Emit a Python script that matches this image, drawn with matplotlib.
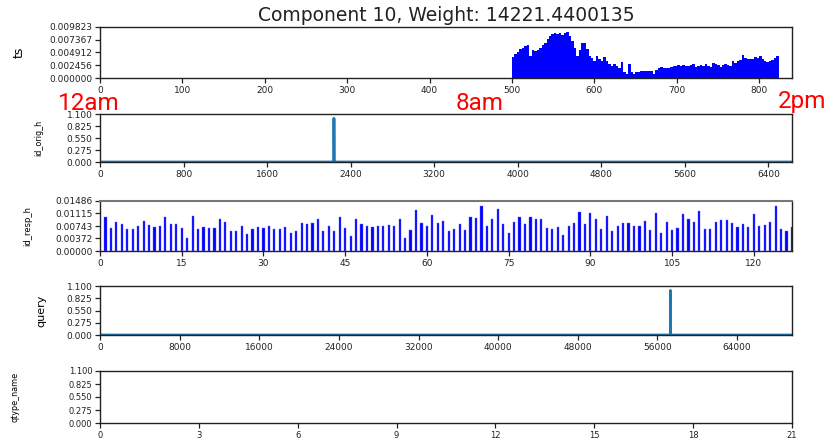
import matplotlib
matplotlib.use('Agg')
import matplotlib.pyplot as plt
import numpy as np

W, H = 839, 440

TITLE = 'Component 10, Weight: 14221.4400135'

# ts: minute-of-day histogram, 3-minute bins starting at minute 500
TS_START = 500
TS_BIN = 3
TS_VALUES = [
    0.0040, 0.0046, 0.0051, 0.0055, 0.0058, 0.0061, 0.0063, 0.0043, 0.0053, 0.0052,
    0.0053, 0.0057, 0.0063, 0.0067, 0.0076, 0.0081, 0.0084, 0.0087, 0.0084, 0.0086,
    0.0082, 0.0086, 0.00893, 0.0081, 0.0072, 0.0057, 0.0043, 0.0053, 0.0067, 0.0068,
    0.0056, 0.0043, 0.0038, 0.0032, 0.0043, 0.0036, 0.0032, 0.0040, 0.0032, 0.0027,
    0.0024, 0.0027, 0.0024, 0.0019, 0.0030, 0.0011, 0.0008, 0.0027, 0.0011, 0.0008,
    0.0011, 0.0011, 0.0013, 0.0013, 0.0014, 0.0013, 0.0013, 0.0008, 0.0015, 0.0019,
    0.0021, 0.0020, 0.0019, 0.0020, 0.0022, 0.0024, 0.0024, 0.0025, 0.0024, 0.0025,
    0.0023, 0.0024, 0.0025, 0.0027, 0.0021, 0.0023, 0.0025, 0.0024, 0.0027, 0.0024,
    0.0021, 0.0029, 0.0027, 0.0025, 0.0021, 0.0025, 0.0027, 0.0025, 0.0024, 0.0032,
    0.0029, 0.0032, 0.0034, 0.0044, 0.0038, 0.0037, 0.0037, 0.0036, 0.0040, 0.0038,
    0.0043, 0.0036, 0.0032, 0.0030, 0.0032, 0.0034, 0.0038, 0.0042,
]
TS_XMAX = 840
TS_YTICKLABELS = ['0.000000', '0.002456', '0.004912', '0.007367', '0.009823']

# id_orig_h: one spike
ORIG_LEN = 6626
ORIG_SPIKE_AT = 2240
ORIG_SPIKE_VAL = 1.0

# id_resp_h: one bar per host
RESP_VALUES = [
    0.01007, 0.00698, 0.00868, 0.00808, 0.00648, 0.00668, 0.00748, 0.00898, 0.00758, 0.00708,
    0.00748, 0.01007, 0.00788, 0.00808, 0.00698, 0.00379, 0.01037, 0.00668, 0.00728, 0.00698,
    0.00698, 0.00957, 0.00868, 0.00608, 0.00588, 0.00748, 0.00499, 0.00668, 0.00718, 0.00698,
    0.00748, 0.00648, 0.00668, 0.00718, 0.00549, 0.00608, 0.00838, 0.00788, 0.00838, 0.00957,
    0.00588, 0.00748, 0.00588, 0.01007, 0.00698, 0.00459, 0.00957, 0.00808, 0.00748, 0.00728,
    0.00748, 0.00748, 0.00778, 0.00748, 0.00957, 0.00379, 0.00638, 0.01207,
    0.00838, 0.00748, 0.01067, 0.00838, 0.00898, 0.00588, 0.00668, 0.00788, 0.00638, 0.01007,
    0.00977, 0.01351, 0.00748, 0.00947, 0.01237, 0.00788, 0.00549, 0.00868, 0.01007, 0.00788,
    0.01007, 0.00947, 0.00947, 0.00698, 0.00668, 0.00728, 0.00489, 0.00748, 0.00838, 0.01157,
    0.00808, 0.01127, 0.00947, 0.00668, 0.01037, 0.00608, 0.00748, 0.00838, 0.00838, 0.00748,
    0.00748, 0.00898, 0.00638, 0.01127, 0.00549, 0.00868, 0.00638, 0.00698, 0.01097, 0.00947,
    0.00868, 0.01187, 0.00668, 0.00668, 0.00868, 0.00928, 0.00928, 0.00838, 0.00718, 0.00788,
    0.00718, 0.01097, 0.00748, 0.00778, 0.00868, 0.01351, 0.00668, 0.00588, 0.00718,
]
RESP_YTICKLABELS = ['0.00000', '0.00372', '0.00743', '0.01115', '0.01486']

# query: one spike
QUERY_LEN = 69520
QUERY_SPIKE_AT = 57300
QUERY_SPIKE_VAL = 1.0

QTYPE_XMAX = 21

UNIT_YTICKLABELS = ['0.000', '0.275', '0.550', '0.825', '1.100']

TIME_LABELS = ['12am', '8am', '2pm']

LINE_BLUE = '#1f77b4'


def axes_at(fig, top, bottom, left=100, right=792):
    return fig.add_axes([left / W, 1 - bottom / H, (right - left) / W, (bottom - top) / H])


def style(ax, labelsize=6.5):
    ax.tick_params(direction='out', length=3.5, width=0.9, colors='#222222',
                   labelsize=labelsize, pad=2)
    for s in ax.spines.values():
        s.set_linewidth(1.0)
        s.set_color('#222222')


if __name__ == '__main__':
    plt.rcParams['font.family'] = ['DejaVu Sans']
    fig = plt.figure(figsize=(W / 100, H / 100), dpi=100)

    # ts
    ax = axes_at(fig, 27, 78)
    ts_x = TS_START + TS_BIN * np.arange(len(TS_VALUES))
    ax.bar(ts_x, TS_VALUES, width=TS_BIN, align='edge', color='blue', linewidth=0)
    ax.set_xlim(0, TS_XMAX)
    ts_ymax = float(TS_YTICKLABELS[-1])
    ax.set_ylim(0, ts_ymax)
    ax.set_xticks(np.arange(0, 801, 100))
    ax.set_yticks(np.linspace(0, ts_ymax, 5))
    ax.set_yticklabels(TS_YTICKLABELS)
    ax.set_ylabel('ts', fontsize=9)
    ax.yaxis.set_label_coords(-0.108, 0.5)
    ax.set_title(TITLE, fontsize=13.5, pad=4, color='#222222')
    style(ax)

    # id_orig_h
    ax = axes_at(fig, 114, 162)
    orig = np.zeros(ORIG_LEN)
    orig[ORIG_SPIKE_AT] = ORIG_SPIKE_VAL
    ax.plot(np.arange(ORIG_LEN), orig, color=LINE_BLUE, linewidth=2)
    ax.set_xlim(0, ORIG_LEN)
    ax.set_ylim(0, 1.1)
    ax.set_xticks(np.arange(0, 6401, 800))
    ax.set_yticks(np.linspace(0, 1.1, 5))
    ax.set_yticklabels(UNIT_YTICKLABELS)
    ax.set_ylabel('id_orig_h', fontsize=5.8)
    ax.yaxis.set_label_coords(-0.082, 0.5)
    style(ax)

    # id_resp_h
    ax = axes_at(fig, 201, 251)
    resp_x = np.arange(1, len(RESP_VALUES) + 1)
    ax.bar(resp_x, RESP_VALUES, width=0.4, color='blue', edgecolor='#6666ff', linewidth=0.3)
    ax.set_xlim(0, len(RESP_VALUES))
    resp_ymax = float(RESP_YTICKLABELS[-1])
    ax.set_ylim(0, resp_ymax)
    ax.set_xticks(np.arange(0, 121, 15))
    ax.set_yticks(np.linspace(0, resp_ymax, 5))
    ax.set_yticklabels(RESP_YTICKLABELS)
    ax.set_ylabel('id_resp_h', fontsize=6)
    ax.yaxis.set_label_coords(-0.098, 0.5)
    style(ax)
    ax.spines['top'].set_color('#777777')
    ax.spines['top'].set_linewidth(1.5)

    # query
    ax = axes_at(fig, 286, 335)
    query = np.zeros(QUERY_LEN)
    query[QUERY_SPIKE_AT] = QUERY_SPIKE_VAL
    ax.plot(np.arange(QUERY_LEN), query, color=LINE_BLUE, linewidth=2)
    ax.set_xlim(0, QUERY_LEN)
    ax.set_ylim(0, 1.1)
    ax.set_xticks(np.arange(0, 64001, 8000))
    ax.set_yticks(np.linspace(0, 1.1, 5))
    ax.set_yticklabels(UNIT_YTICKLABELS)
    ax.set_ylabel('query', fontsize=8)
    ax.yaxis.set_label_coords(-0.077, 0.5)
    style(ax)

    # qtype_name (empty)
    ax = axes_at(fig, 371, 423)
    ax.set_xlim(0, QTYPE_XMAX)
    ax.set_ylim(0, 1.1)
    ax.set_xticks(np.arange(0, QTYPE_XMAX + 1, 3))
    ax.set_yticks(np.linspace(0, 1.1, 5))
    ax.set_yticklabels(UNIT_YTICKLABELS)
    ax.set_ylabel('qtype_name', fontsize=5.8)
    ax.yaxis.set_label_coords(-0.117, 0.5)
    style(ax, labelsize=6)

    # red time-of-day annotations
    red_pos = [(58, 110), (456, 110), (778, 108)]
    for label, (px, py) in zip(TIME_LABELS, red_pos):
        fig.text(px / W, 1 - py / H, label, color='red', fontsize=17.5,
                 family='Roboto', ha='left', va='baseline')

    fig.savefig('out.png', dpi=100)
